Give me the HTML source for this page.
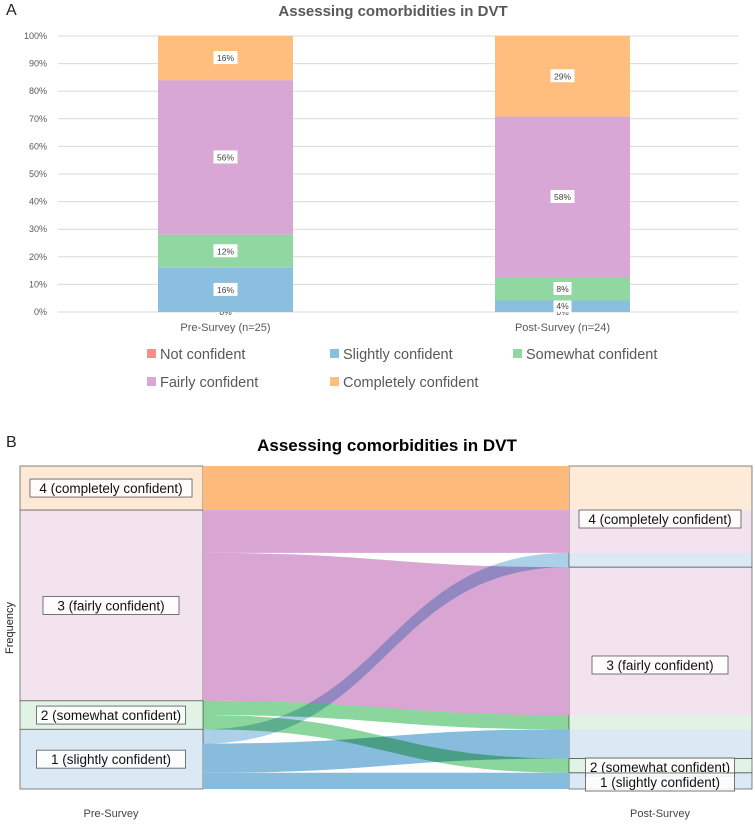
<!DOCTYPE html>
<html><head><meta charset="utf-8"><style>
body{margin:0;background:#fff;width:755px;height:825px;overflow:hidden;font-family:"Liberation Sans",sans-serif}
svg{display:block}
</style></head><body>
<svg id="s" width="755" height="825">
<text x="6" y="15" font-size="16" fill="#222">A</text>
<text x="393" y="16" font-size="15" font-weight="bold" fill="#595959" text-anchor="middle">Assessing comorbidities in DVT</text>
<g id="ga"></g>
<g id="leg"></g>
<text x="6" y="447" font-size="16" fill="#222">B</text>
<text x="387" y="451" font-size="17" font-weight="bold" fill="#000" text-anchor="middle">Assessing comorbidities in DVT</text>
<text transform="translate(13,628) rotate(-90)" font-size="11" fill="#222" text-anchor="middle">Frequency</text>
<g id="gb"></g>
<text x="111" y="817" font-size="11" fill="#444" text-anchor="middle">Pre-Survey</text>
<text x="660" y="817" font-size="11" fill="#444" text-anchor="middle">Post-Survey</text>
</svg>
<script>
const NS="http://www.w3.org/2000/svg";
// ---- Chart A data ----
const categories=["Pre-Survey (n=25)","Post-Survey (n=24)"];
const seriesNames=["Not confident","Slightly confident","Somewhat confident","Fairly confident","Completely confident"];
const seriesColors=["#ff8a8a","#8bbfdf","#91d7a2","#d9a7d5","#ffbe7d"];
const preValues=[0,16,12,56,16];
const postValues=[0,4.17,8.33,58.33,29.17];
const preLabels=["0%","16%","12%","56%","16%"];
const postLabels=["0%","4%","8%","58%","29%"];
const yTicks=[0,10,20,30,40,50,60,70,80,90,100];
// ---- Chart B data (frequencies) ----
const flowNames=["complete-complete","fairly-complete","fairly-fairly","somewhat-fairly","somewhat-somewhat","slightly-complete","slightly-fairly","slightly-slightly"];
const flowSizes=[3.4,3.3,11.4,1.1,1.1,1.1,2.25,1.25];
const flowColors=["#fdba7a","#d9a6d4","#d9a6d4","#8ad69d","#8ad69d","#88bcdd","#88bcdd","#88bcdd"];
const flowLeftOrder=[0,1,2,3,4,5,6,7];
const flowRightOrder=[0,1,5,2,3,6,4,7];
const preStrata=["4 (completely confident)","3 (fairly confident)","2 (somewhat confident)","1 (slightly confident)"];
const preStrataSizes=[3.4,14.7,2.2,4.6];
const postStrata=["4 (completely confident)","3 (fairly confident)","2 (somewhat confident)","1 (slightly confident)"];
const postStrataSizes=[7.8,14.75,1.1,1.25];

function el(t,a,p){const e=document.createElementNS(NS,t);for(const k in a)e.setAttribute(k,a[k]);p.appendChild(e);return e;}

// ---- Chart A ----
const ga=document.getElementById('ga');
const yBase=312,yTopA=36,yS=v=>yBase-(yBase-yTopA)*v/100;
yTicks.forEach(t=>{
  const l=el('line',{x1:58,x2:738,y1:yS(t),y2:yS(t),stroke:'#d9d9d9','stroke-width':1},ga);
  
  
  const tx=el('text',{x:47,y:yS(t)+3,'font-size':9,fill:'#595959','text-anchor':'end'},ga);
  tx.textContent=t+'%';
  
  
});
const barX=[158,495],barW=135;
[preValues,postValues].forEach((vals,ci)=>{
  const labs=ci?postLabels:preLabels;let cum=0;
  vals.forEach((v,si)=>{
    const t0=yS(cum+v),b0=yS(cum);
    const r=el('rect',{x:barX[ci],y:t0,width:barW,height:Math.max(0,b0-t0),fill:seriesColors[si]},ga);
    
    
    const cy=(t0+b0)/2,cx=barX[ci]+barW/2;
    let ly=cy; if(si===0)ly=yBase;
    const w=labs[si].length*6+6;
    const bx=el('rect',{x:cx-w/2,y:ly-7,width:w,height:13,fill:'#fff'},ga);
    
    
    const t=el('text',{x:cx,y:ly+3,'font-size':8.5,fill:'#404040','text-anchor':'middle'},ga);
    t.textContent=labs[si];
    
    
    cum+=v;
  });
  const c=el('text',{x:barX[ci]+barW/2,y:331,'font-size':11,fill:'#595959','text-anchor':'middle'},ga);
  c.textContent=categories[ci];
  
  
});
const leg=document.getElementById('leg');
const legPos=[[147,359],[330,359],[513,359],[147,387],[330,387]];
seriesNames.forEach((n,i)=>{
  const g=el('g',{},leg);
  
  
  el('rect',{x:legPos[i][0],y:legPos[i][1]-10,width:9,height:9,fill:seriesColors[i]},g);
  const t=el('text',{x:legPos[i][0]+13,y:legPos[i][1],'font-size':14.5,fill:'#595959'},g);t.textContent=n;
});

// ---- Chart B ----
const gb=document.getElementById('gb');
const topY=466,bottomY=789,totalB=preStrataSizes.reduce((a,b)=>a+b,0),kB=(bottomY-topY)/totalB;
const Lx0=20,Lx1=203,Rx0=569,Rx1=752;
const fillL=["#fde9d5","#f3e3ef","#e1f3e4","#dbe9f4"];
const lefY={},rigY={};let cc=topY;
flowLeftOrder.forEach(i=>{lefY[i]=cc;cc+=flowSizes[i]*kB;});
cc=topY;flowRightOrder.forEach(i=>{rigY[i]=cc;cc+=flowSizes[i]*kB;});
cc=topY;preStrata.forEach((n,i)=>{
  const h=preStrataSizes[i]*kB;
  const r=el('rect',{x:Lx0,y:cc,width:Lx1-Lx0,height:h,fill:fillL[i],stroke:'#666','stroke-width':0.8},gb);
  
  
  cc+=h;
});
const lightF={"#fdba7a":"#fdebd8","#d9a6d4":"#f3e3ef","#8ad69d":"#e1f3e4","#88bcdd":"#dbe9f4"};
flowRightOrder.forEach(i=>{
  const r=el('rect',{x:Rx0,y:rigY[i],width:Rx1-Rx0,height:flowSizes[i]*kB,fill:lightF[flowColors[i]]},gb);
  
  
});
cc=topY;postStrata.forEach((n,i)=>{
  const h=postStrataSizes[i]*kB;
  const r=el('rect',{x:Rx0,y:cc,width:Rx1-Rx0,height:h,fill:'none',stroke:'#666','stroke-width':0.8},gb);
  
  
  cc+=h;
});
const drawOrder=[0,1,2,7,6,3,4,5];
const blendSet=[3,4,5];
const mx=(Lx1+Rx0)/2;
drawOrder.forEach(i=>{
  const a=lefY[i],b=rigY[i],h=flowSizes[i]*kB;
  const d=`M${Lx1},${a} C${mx},${a} ${mx},${b} ${Rx0},${b} L${Rx0},${b+h} C${mx},${b+h} ${mx},${a+h} ${Lx1},${a+h} Z`;
  const p=el('path',{d:d,fill:flowColors[i]},gb);
  if(blendSet.includes(i))p.setAttribute('style','mix-blend-mode:multiply'+(i===5?';opacity:0.7':''));
  
  
});
function lab(txt,cx,cy){
  const w=txt.length*6.5+6;
  const r=el('rect',{x:cx-w/2,y:cy-9,width:w,height:18,fill:'#fff','fill-opacity':0.85,stroke:'#555','stroke-width':0.8},gb);
  
  
  const t=el('text',{x:cx,y:cy+5,'font-size':13.5,fill:'#111','text-anchor':'middle'},gb);t.textContent=txt;
  
  
}
cc=topY;preStrata.forEach((n,i)=>{const h=preStrataSizes[i]*kB;lab(n,111,cc+h/2);cc+=h;});
const postLabY=[519,665,767,782];
postStrata.forEach((n,i)=>lab(n,660,postLabY[i]));
</script>
</body></html>
